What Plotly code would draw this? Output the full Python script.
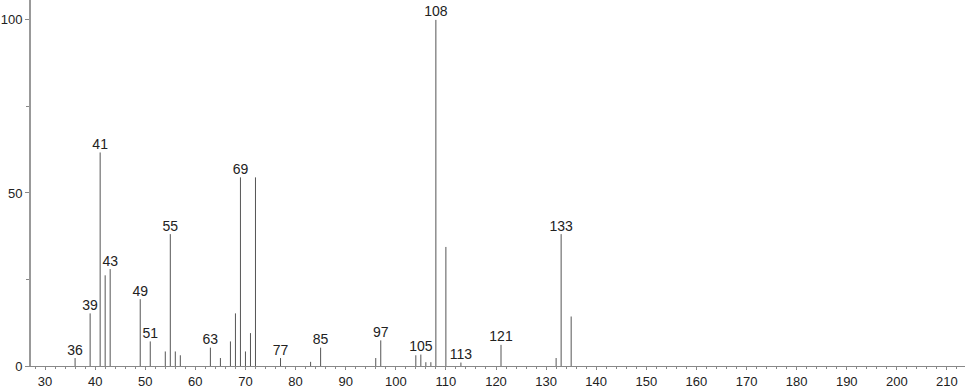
import plotly.graph_objects as go

mz = [36, 39, 41, 42, 43, 49, 51, 54, 55, 56, 57, 63, 65, 67, 68, 69, 70, 71, 72,
      77, 83, 85, 96, 97, 104, 105, 106, 107, 108, 110, 113, 121, 132, 133, 135]
intensity = [2.3, 15.2, 61.7, 26.2, 28.0, 19.3, 7.1, 4.2, 38.1, 4.2, 3.1, 5.3, 2.3, 7.1, 15.2, 54.5, 4.2, 9.5, 54.5,
             2.3, 1.2, 5.3, 2.3, 7.4, 3.1, 3.3, 1.1, 1.1, 100.0, 34.4, 1.0, 6.1, 2.3, 38.1, 14.3]
labeled = [36, 39, 41, 43, 49, 51, 55, 63, 69, 77, 85, 97, 105, 108, 113, 121, 133]

x_ticks = list(range(30, 211, 10))
y_ticks = [0, 50, 100]

xs, ys = [], []
for m, v in zip(mz, intensity):
    xs += [m, m, None]
    ys += [0, v, None]

lab_x = [m for m in labeled]
lab_y = [intensity[mz.index(m)] for m in labeled]
lab_t = [str(m) for m in labeled]

fig = go.Figure()
fig.add_trace(go.Scatter(x=xs, y=ys, mode="lines",
                         line=dict(color="#555555", width=1), hoverinfo="skip"))
fig.add_trace(go.Scatter(x=lab_x, y=lab_y, mode="text", text=lab_t,
                         textposition="top center",
                         textfont=dict(family="Liberation Sans", size=14, color="#222222"),
                         hoverinfo="skip", cliponaxis=False))

fig.update_layout(
    width=966, height=389,
    margin=dict(l=31, r=1, t=0, b=23, autoexpand=False),
    paper_bgcolor="white", plot_bgcolor="white",
    showlegend=False,
    font=dict(family="Liberation Sans", size=13, color="#222222"),
)
fig.update_xaxes(range=[27.2, 213.6], tickvals=x_ticks, ticktext=[str(v) for v in x_ticks],
                 automargin=False,
                 showgrid=False, zeroline=False, showline=True, linecolor="#888888", linewidth=1,
                 ticks="outside", ticklen=3, tickcolor="#888888", tickwidth=1,
                 minor=dict(dtick=2, tick0=30, ticks="outside", ticklen=2, tickcolor="#888888", showgrid=False),
                 tickfont=dict(size=13, color="#222222"))
fig.update_yaxes(range=[0, 105.75], tickvals=y_ticks, ticktext=[str(v) for v in y_ticks],
                 automargin=False,
                 showgrid=False, zeroline=False, showline=True, linecolor="#999999", linewidth=2,
                 ticks="outside", ticklen=4, tickcolor="#888888", tickwidth=1,
                 minor=dict(tickvals=[25, 75], ticks="outside", ticklen=3, tickcolor="#888888", showgrid=False),
                 tickfont=dict(size=13, color="#222222"))

fig.write_html("out.html")
